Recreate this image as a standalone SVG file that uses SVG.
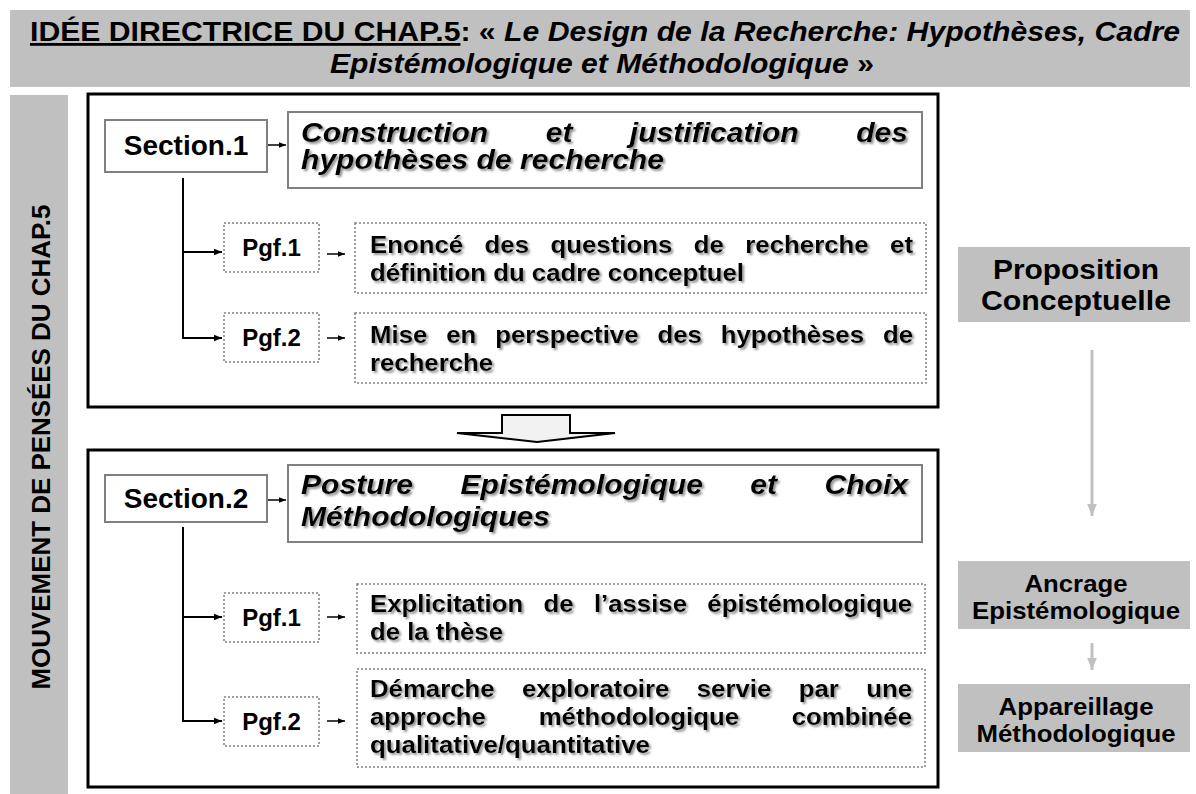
<svg xmlns="http://www.w3.org/2000/svg" width="1196" height="794" viewBox="0 0 1196 794">
<style>
.b{font-family:"Liberation Sans",Arial,sans-serif;font-weight:bold;fill:#000}
.f28{font-size:28px}
.f24{font-size:24px}
.f26{font-size:26px}
.it{font-style:italic}
.sh{filter:url(#shadow)}
.gray{fill:#c0c0c0;stroke:none}
.outer{fill:#fff;stroke:#000;stroke-width:3}
.sbox{fill:#fff;stroke:#808080;stroke-width:2}
.dbox{fill:#fff;stroke:#808080;stroke-width:1.5;stroke-dasharray:2 2}
.con{fill:none;stroke:#000;stroke-width:2}
.con1{fill:none;stroke:#000;stroke-width:1.5}
.gcon{fill:none;stroke:#c0c0c0;stroke-width:3}
</style>
<defs>
<filter id="shadow" x="-5%" y="-20%" width="115%" height="160%">
<feDropShadow dx="2" dy="2" stdDeviation="1.2" flood-color="#808080" flood-opacity="0.85"/>
</filter>
<marker id="ah" viewBox="0 0 10 10" refX="10" refY="5" markerWidth="9" markerHeight="8" markerUnits="userSpaceOnUse" orient="auto"><path d="M0,1 L10,5 L0,9 Z" fill="#000"/></marker>
<marker id="ahs" viewBox="0 0 10 10" refX="10" refY="5" markerWidth="8" markerHeight="7" markerUnits="userSpaceOnUse" orient="auto"><path d="M0,1 L10,5 L0,9 Z" fill="#000"/></marker>
<marker id="ahg" viewBox="0 0 10 10" refX="10" refY="5" markerWidth="12" markerHeight="12" markerUnits="userSpaceOnUse" orient="auto"><path d="M0,1 L10,5 L0,9 Z" fill="#c0c0c0"/></marker>
</defs>

<g id="title">
<rect class="gray" x="10" y="10" width="1180" height="77"/>
<text class="b f28" x="30" y="41" textLength="1150" lengthAdjust="spacingAndGlyphs"><tspan text-decoration="underline">IDÉE DIRECTRICE DU CHAP.5</tspan>: « <tspan class="it">Le Design de la Recherche: Hypothèses, Cadre</tspan></text>
<text class="b f28" x="330" y="73" textLength="544" lengthAdjust="spacingAndGlyphs"><tspan class="it">Epistémologique et Méthodologique</tspan> »</text>
</g>

<g id="left-bar">
<rect class="gray" x="10" y="95" width="58" height="699"/>
<text class="b f26" transform="translate(50,447) rotate(-90)" x="-242.5" y="0" textLength="485" lengthAdjust="spacingAndGlyphs">MOUVEMENT DE PENSÉES DU CHAP.5</text>
</g>

<g id="section1-frame"><rect class="outer" x="88" y="94" width="850" height="313"/></g>
<g id="section2-frame"><rect class="outer" x="88" y="450" width="850" height="337"/></g>

<g id="transition-arrow">
<path d="M502,415 H570 V433 H615 L537,442 L457,433 H502 Z" fill="#f2f2f2" stroke="#000" stroke-width="2" stroke-linejoin="miter"/>
</g>

<g id="section1">
<rect class="sbox" x="105" y="120" width="162" height="52"/>
<text class="b f28" x="186" y="155" text-anchor="middle">Section.1</text>
</g>
<g id="section1-title">
<rect class="sbox" x="288" y="112" width="634" height="76"/>
<text class="b f28 it sh" x="301" y="142" textLength="607" lengthAdjust="spacingAndGlyphs" word-spacing="45.7">Construction et justification des</text>
<text class="b f28 it sh" x="301" y="169" textLength="363" lengthAdjust="spacingAndGlyphs">hypothèses de recherche</text>
</g>
<g id="s1-pgf1">
<rect class="dbox" x="224" y="223" width="95" height="49"/>
<text class="b f24" x="271.5" y="256" text-anchor="middle">Pgf.1</text>
</g>
<g id="s1-pgf1-text">
<rect class="dbox" x="355" y="223" width="571" height="70"/>
<text class="b f24 sh" x="370" y="253" textLength="543" lengthAdjust="spacingAndGlyphs" word-spacing="13.3">Enoncé des questions de recherche et</text>
<text class="b f24 sh" x="370" y="281" textLength="374" lengthAdjust="spacingAndGlyphs">définition du cadre conceptuel</text>
</g>
<g id="s1-pgf2">
<rect class="dbox" x="224" y="313" width="95" height="49"/>
<text class="b f24" x="271.5" y="346" text-anchor="middle">Pgf.2</text>
</g>
<g id="s1-pgf2-text">
<rect class="dbox" x="355" y="313" width="571" height="70"/>
<text class="b f24 sh" x="370" y="343" textLength="543" lengthAdjust="spacingAndGlyphs" word-spacing="10.85">Mise en perspective des hypothèses de</text>
<text class="b f24 sh" x="370" y="371" textLength="123" lengthAdjust="spacingAndGlyphs">recherche</text>
</g>

<g id="section2">
<rect class="sbox" x="105" y="475" width="162" height="47"/>
<text class="b f28" x="186" y="508" text-anchor="middle">Section.2</text>
</g>
<g id="section2-title">
<rect class="sbox" x="288" y="465" width="634" height="77"/>
<text class="b f28 it sh" x="301" y="494" textLength="607" lengthAdjust="spacingAndGlyphs" word-spacing="36.3">Posture Epistémologique et Choix</text>
<text class="b f28 it sh" x="301" y="526" textLength="249" lengthAdjust="spacingAndGlyphs">Méthodologiques</text>
</g>
<g id="s2-pgf1">
<rect class="dbox" x="224" y="593" width="95" height="49"/>
<text class="b f24" x="271.5" y="626" text-anchor="middle">Pgf.1</text>
</g>
<g id="s2-pgf1-text">
<rect class="dbox" x="357" y="584" width="568" height="69"/>
<text class="b f24 sh" x="370" y="612" textLength="542" lengthAdjust="spacingAndGlyphs" word-spacing="12.3">Explicitation de l’assise épistémologique</text>
<text class="b f24 sh" x="370" y="640" textLength="133" lengthAdjust="spacingAndGlyphs">de la thèse</text>
</g>
<g id="s2-pgf2">
<rect class="dbox" x="224" y="697" width="95" height="49"/>
<text class="b f24" x="271.5" y="730" text-anchor="middle">Pgf.2</text>
</g>
<g id="s2-pgf2-text">
<rect class="dbox" x="357" y="669" width="568" height="98"/>
<text class="b f24 sh" x="370" y="697" textLength="542" lengthAdjust="spacingAndGlyphs" word-spacing="18.9">Démarche exploratoire servie par une</text>
<text class="b f24 sh" x="370" y="725" textLength="542" lengthAdjust="spacingAndGlyphs" word-spacing="42.5">approche méthodologique combinée</text>
<text class="b f24 sh" x="370" y="753" textLength="280" lengthAdjust="spacingAndGlyphs">qualitative/quantitative</text>
</g>

<g id="proposition">
<rect class="gray" x="958" y="247" width="232" height="75"/>
<text class="b f28" x="993" y="279" textLength="166" lengthAdjust="spacingAndGlyphs">Proposition</text>
<text class="b f28" x="981" y="310" textLength="190" lengthAdjust="spacingAndGlyphs">Conceptuelle</text>
</g>
<g id="ancrage">
<rect class="gray" x="958" y="561" width="232" height="68"/>
<text class="b f24" x="1024.5" y="592" textLength="103" lengthAdjust="spacingAndGlyphs">Ancrage</text>
<text class="b f24" x="972" y="619" textLength="208" lengthAdjust="spacingAndGlyphs">Epistémologique</text>
</g>
<g id="appareillage">
<rect class="gray" x="958" y="684" width="232" height="68"/>
<text class="b f24" x="998.5" y="715" textLength="155" lengthAdjust="spacingAndGlyphs">Appareillage</text>
<text class="b f24" x="976.5" y="742" textLength="199" lengthAdjust="spacingAndGlyphs">Méthodologique</text>
</g>

<g id="connectors">
<path class="con1" d="M268,145 H286" marker-end="url(#ahs)"/>
<path class="con" d="M183,178 V338 H222" marker-end="url(#ah)"/>
<path class="con" d="M183,252 H222" marker-end="url(#ah)"/>
<path class="con1" d="M327,254 H345" marker-end="url(#ahs)"/>
<path class="con1" d="M327,338 H345" marker-end="url(#ahs)"/>
<path class="con1" d="M268,500 H286" marker-end="url(#ahs)"/>
<path class="con" d="M183,527 V721 H222" marker-end="url(#ah)"/>
<path class="con" d="M183,617 H222" marker-end="url(#ah)"/>
<path class="con1" d="M327,617 H345" marker-end="url(#ahs)"/>
<path class="con1" d="M327,721 H345" marker-end="url(#ahs)"/>
<path class="gcon" d="M1092,350 V516" marker-end="url(#ahg)"/>
<path class="gcon" d="M1092,643 V670" marker-end="url(#ahg)"/>
</g>
</svg>
